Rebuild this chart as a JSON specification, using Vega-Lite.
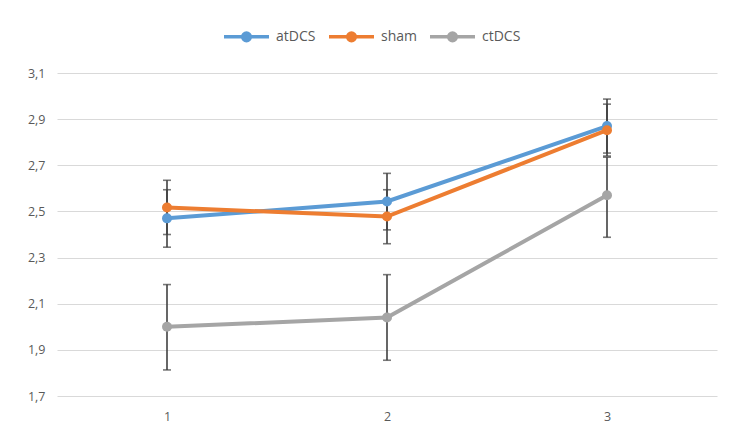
{
  "$schema": "https://vega.github.io/schema/vega-lite/v6.json",
  "width": 660,
  "height": 323,
  "autosize": {"type": "none"},
  "padding": {"left": 57, "top": 73, "right": 26, "bottom": 52},
  "background": "white",
  "config": {
    "view": {"stroke": null},
    "font": "Open Sans",
    "axis": {"labelFont": "Open Sans", "labelColor": "#595959", "labelFontSize": 12.5},
    "legend": {"labelFont": "Open Sans", "labelColor": "#595959", "labelFontSize": 14}
  },
  "data": {
    "values": [
      {"session": "1", "group": "atDCS", "mean": 2.47, "lo": 2.345, "hi": 2.594},
      {"session": "2", "group": "atDCS", "mean": 2.543, "lo": 2.42, "hi": 2.665},
      {"session": "3", "group": "atDCS", "mean": 2.87, "lo": 2.753, "hi": 2.987},
      {"session": "1", "group": "sham", "mean": 2.517, "lo": 2.40, "hi": 2.635},
      {"session": "2", "group": "sham", "mean": 2.478, "lo": 2.36, "hi": 2.594},
      {"session": "3", "group": "sham", "mean": 2.852, "lo": 2.74, "hi": 2.965},
      {"session": "1", "group": "ctDCS", "mean": 2.0, "lo": 1.813, "hi": 2.183},
      {"session": "2", "group": "ctDCS", "mean": 2.04, "lo": 1.855, "hi": 2.226},
      {"session": "3", "group": "ctDCS", "mean": 2.57, "lo": 2.388, "hi": 2.735}
    ]
  },
  "encoding": {
    "x": {
      "field": "session",
      "type": "ordinal",
      "scale": {"type": "point", "padding": 0.5},
      "axis": {"title": null, "labelAngle": 0, "ticks": false, "domain": false, "labelPadding": 14, "grid": false, "labelColor": "#595959"}
    }
  },
  "layer": [
    {
      "mark": {"type": "errorbar", "ticks": {"size": 8, "thickness": 1.6, "color": "#404040"}, "rule": {"strokeWidth": 1.6, "color": "#404040"}},
      "encoding": {
        "y": {"field": "lo", "type": "quantitative", "scale": {"domain": [1.7, 3.1], "nice": false, "zero": false}},
        "y2": {"field": "hi"},
        "detail": {"field": "group"}
      }
    },
    {
      "mark": {"type": "line", "strokeWidth": 4},
      "encoding": {
        "y": {
          "field": "mean",
          "type": "quantitative",
          "scale": {"domain": [1.7, 3.1], "nice": false, "zero": false},
          "axis": {
            "title": null,
            "values": [1.7, 1.9, 2.1, 2.3, 2.5, 2.7, 2.9, 3.1],
            "labelExpr": "replace(format(datum.value, '.1f'), '.', ',')",
            "domain": false,
            "ticks": false,
            "labelPadding": 12,
            "gridColor": "#d9d9d9",
            "gridWidth": 1.2
          }
        },
        "color": {
          "field": "group",
          "type": "nominal",
          "scale": {"domain": ["atDCS", "sham", "ctDCS"], "range": ["#5B9BD5", "#ED7D31", "#A5A5A5"]},
          "legend": {
            "title": null,
            "orient": "none",
            "direction": "horizontal",
            "legendX": 165,
            "legendY": -61,
            "symbolType": "M-1,0H1M-0.17,0A0.17,0.17 0 1,1 0.17,0A0.17,0.17 0 1,1 -0.17,0Z",
            "symbolSize": 2025,
            "symbolStrokeWidth": 3.5,
            "symbolOpacity": 1,
            "columnPadding": 6,
            "labelOffset": 5
          }
        }
      }
    },
    {
      "mark": {"type": "point", "filled": true, "size": 100, "opacity": 1},
      "encoding": {
        "y": {"field": "mean", "type": "quantitative"},
        "color": {"field": "group", "type": "nominal"}
      }
    }
  ]
}
